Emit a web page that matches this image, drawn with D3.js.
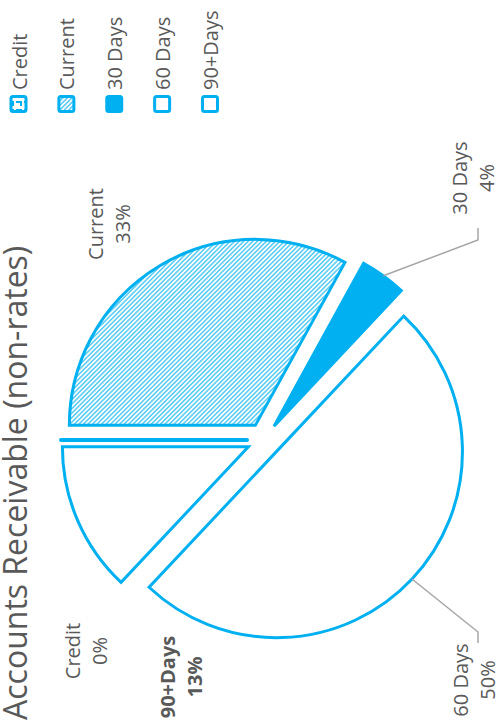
<!DOCTYPE html>
<html>
<head>
<meta charset="utf-8">
<script src="https://cdn.jsdelivr.net/npm/d3@7"></script>
<style>
  html, body { margin: 0; padding: 0; background: #fff; }
  svg { display: block; }
  text { font-family: "Open Sans", "Noto Sans", sans-serif; fill: #595959; }
</style>
</head>
<body>
<script>
// ---- data ----
const categories = ["Credit", "Current", "30 Days", "60 Days", "90+Days"];
const values = [0, 33, 4, 50, 13];
const titleText = "Accounts Receivable (non-rates)";

// ---- layout (unrotated chart frame: 723 wide x 501 tall) ----
const PW = 501, PH = 723;       // page
const BLUE = "#00B0F0";
const center = [283, 264];
const radius = 186;
const explode = 17;
const labelLayout = {
  "Credit":  {x: 72,  y: 80,  bold: false},
  "Current": {x: 499, y: 103, bold: false},
  "30 Days": {x: 545, y: 467, bold: false, leader: [[-62, 11], [-50, 11]]},
  "60 Days": {x: 43,  y: 468, bold: false, leader: [[48, 10], [37, 10]]},
  "90+Days": {x: 46,  y: 175, bold: true}
};
const lineGap = 27;

const svg = d3.select("body").append("svg")
  .attr("width", PW).attr("height", PH);

const defs = svg.append("defs");
// hatch for Current
const hatch = defs.append("pattern")
  .attr("id", "hatch").attr("patternUnits", "userSpaceOnUse")
  .attr("width", 3.2).attr("height", 3.2)
  .attr("patternTransform", "rotate(-45)");
hatch.append("rect").attr("width", 3.2).attr("height", 3.2).attr("fill", "#fff");
hatch.append("line").attr("x1", 0.8).attr("y1", 0).attr("x2", 0.8).attr("y2", 3.2)
  .attr("stroke", BLUE).attr("stroke-width", 1.0);
// small pattern for Credit
const cpat = defs.append("pattern")
  .attr("id", "creditPat").attr("patternUnits", "userSpaceOnUse")
  .attr("width", 8).attr("height", 8);
cpat.append("rect").attr("width", 8).attr("height", 8).attr("fill", "#fff");
cpat.append("rect").attr("x", 4).attr("y", 0).attr("width", 2).attr("height", 5).attr("fill", BLUE);
cpat.append("rect").attr("x", 1).attr("y", 4).attr("width", 5).attr("height", 2).attr("fill", BLUE);

const fills = {
  "Credit": "url(#creditPat)",
  "Current": "url(#hatch)",
  "30 Days": BLUE,
  "60 Days": "#fff",
  "90+Days": "#fff"
};

const g = svg.append("g").attr("transform", `translate(0,${PH}) rotate(-90)`);

// title
g.append("text")
  .attr("x", 3).attr("y", 27)
  .attr("font-size", 32)
  .text(titleText);

// pie
const data = categories.map((c, i) => ({cat: c, value: values[i]}));
const total = d3.sum(values);
const pie = d3.pie().value(d => d.value).sort(null).startAngle(0).endAngle(2 * Math.PI);
const arcs = pie(data);
const arc = d3.arc().innerRadius(0).outerRadius(radius);
const rim = d3.arc().innerRadius(radius).outerRadius(radius);

function offset(d) {
  const a = (d.startAngle + d.endAngle) / 2;
  return [Math.sin(a) * explode, -Math.cos(a) * explode];
}

const pg = g.append("g").attr("transform", `translate(${center[0]},${center[1]})`);
pg.selectAll("path.slice").data(arcs).join("path")
  .attr("class", "slice")
  .attr("transform", d => { const o = offset(d); return `translate(${o[0]},${o[1]})`; })
  .attr("d", arc)
  .attr("fill", d => fills[d.data.cat])
  .attr("stroke", BLUE)
  .attr("stroke-width", d => d.value === 0 ? 4 : 3)
  .attr("stroke-linejoin", d => d.value === 0 ? "round" : "miter")
  .attr("stroke-linecap", "round");

// leader lines
const fmt = d3.format(".0%");
arcs.forEach(d => {
  const L = labelLayout[d.data.cat];
  if (!L.leader) return;
  const o = offset(d);
  const c = rim.centroid(d);
  const p0 = [center[0] + o[0] + c[0], center[1] + o[1] + c[1]];
  const pts = [p0].concat(L.leader.map(q => [L.x + q[0], L.y + q[1]]));
  g.append("path")
    .attr("d", d3.line()(pts))
    .attr("fill", "none")
    .attr("stroke", "#A6A6A6")
    .attr("stroke-width", 1.5);
});

// data labels
arcs.forEach(d => {
  const L = labelLayout[d.data.cat];
  const t = g.append("text")
    .attr("text-anchor", "middle")
    .attr("font-size", 20)
    .attr("font-weight", L.bold ? "bold" : "normal");
  t.append("tspan").attr("x", L.x).attr("y", L.y).text(d.data.cat);
  t.append("tspan").attr("x", L.x).attr("y", L.y + lineGap).text(fmt(d.data.value / total));
});

// legend
const ly = d3.scalePoint().domain(categories).range([18.5, 210]);
const lg = g.append("g");
categories.forEach(c => {
  const y = ly(c);
  lg.append("rect")
    .attr("x", 611.5).attr("y", y - 7.5)
    .attr("width", 15).attr("height", 15)
    .attr("rx", 2)
    .attr("fill", fills[c])
    .attr("stroke", BLUE).attr("stroke-width", 3);
  lg.append("text")
    .attr("x", 633).attr("y", y + 8)
    .attr("font-size", 20)
    .text(c);
});
</script>
</body>
</html>
